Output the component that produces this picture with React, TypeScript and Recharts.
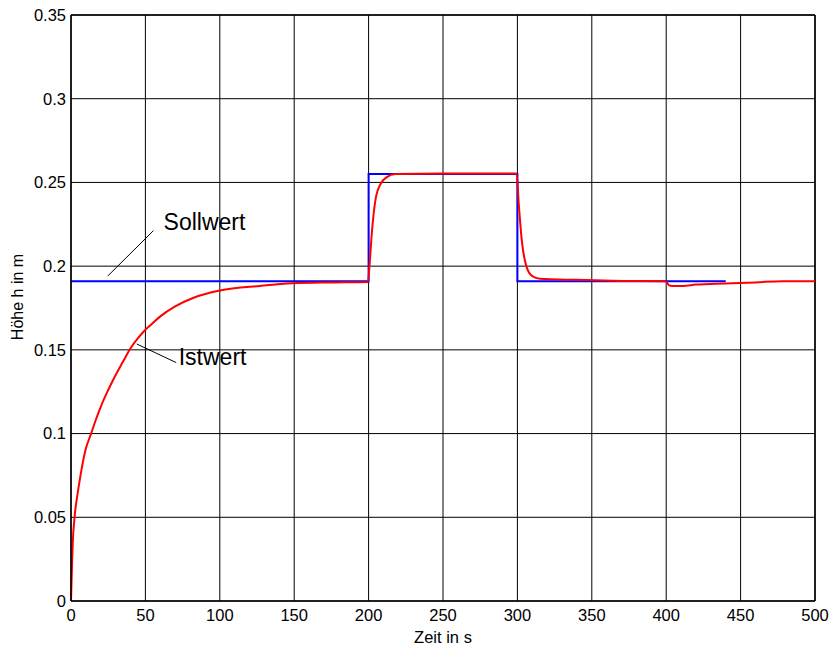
import { LineChart, Line, XAxis, YAxis, CartesianGrid, ReferenceLine, ReferenceDot, Label } from "recharts";

const xTicks = [0, 50, 100, 150, 200, 250, 300, 350, 400, 450, 500];
const yTicks = [0, 0.05, 0.1, 0.15, 0.2, 0.25, 0.3, 0.35];

// Sollwert (setpoint)
const sollT = [0, 200, 200, 300, 300, 440];
const sollH = [0.191, 0.191, 0.255, 0.255, 0.191, 0.191];

// Istwert (measured height)
const istT = [
  0, 0.8, 1.2, 2.4, 4.6, 6.2, 9.7, 13.5, 17, 20, 25, 30, 35, 40, 45, 50, 55, 60, 70, 82, 100, 127, 149, 175, 199.5,
  201, 202, 203, 205, 208, 212, 218, 250, 299.5,
  301, 303, 306, 310, 315, 340, 370, 399.5,
  402, 404, 411, 420, 440, 460, 478, 500,
];
const istH = [
  0, 0.025, 0.035, 0.05, 0.065, 0.074, 0.09, 0.1, 0.109, 0.116, 0.126, 0.135, 0.143, 0.151, 0.157, 0.162, 0.166, 0.17, 0.176, 0.181, 0.1854, 0.1882, 0.1898, 0.1903, 0.1906,
  0.205, 0.218, 0.228, 0.2415, 0.249, 0.253, 0.255, 0.2553, 0.2553,
  0.236, 0.215, 0.2, 0.194, 0.1925, 0.1918, 0.1912, 0.191,
  0.1885, 0.1882, 0.1882, 0.189, 0.1897, 0.1903, 0.191, 0.191,
];

const sollData = sollT.map((t, i) => ({ t, h: sollH[i] }));
const istData = istT.map((t, i) => ({ t, h: istH[i] }));

const font = "'Liberation Sans', Arial, sans-serif";

function AnnotText({ cx, cy, text }: { cx?: number; cy?: number; text: string }) {
  return (
    <text x={cx} y={cy} fontFamily={font} fontSize={23} fill="#000">
      {text}
    </text>
  );
}

export default function App() {
  return (
    <div style={{ position: "absolute", left: 0, top: 0, width: 832, height: 646, background: "#fff" }}>
      <LineChart width={832} height={646} margin={{ top: 15, right: 17, left: 0, bottom: 0 }}>
        <CartesianGrid stroke="#000" strokeWidth={1} horizontalValues={yTicks} verticalValues={xTicks} />
        <XAxis
          type="number"
          dataKey="t"
          domain={[0, 500]}
          ticks={xTicks}
          allowDuplicatedCategory={false}
          height={45}
          tickLine={false}
          axisLine={{ stroke: "#000", strokeWidth: 1.5 }}
          tick={{ fill: "#000", fontSize: 16.5, fontFamily: font }}
        >
          <Label value="Zeit in s" position="insideBottom" offset={3} fill="#000" fontSize={16.5} fontFamily={font} />
        </XAxis>
        <YAxis
          type="number"
          domain={[0, 0.35]}
          ticks={yTicks}
          width={71}
          tickLine={false}
          tickSize={3}
          tickMargin={2}
          axisLine={{ stroke: "#000", strokeWidth: 1.5 }}
          tickFormatter={(v) => String(v)}
          tick={{ fill: "#000", fontSize: 16.5, fontFamily: font }}
        >
          <Label
            content={() => (
              <text
                x={23}
                y={297}
                transform="rotate(-90 23 297)"
                textAnchor="middle"
                fontFamily={font}
                fontSize={16}
                fill="#000"
              >
                Höhe h in m
              </text>
            )}
          />
        </YAxis>
        <ReferenceLine x={500} stroke="#000" strokeWidth={1.5} />
        <ReferenceLine y={0.35} stroke="#000" strokeWidth={1.5} />
        <Line
          data={sollData}
          dataKey="h"
          type="linear"
          stroke="#0000ff"
          strokeWidth={2}
          dot={false}
          isAnimationActive={false}
        />
        <Line
          data={istData}
          dataKey="h"
          type="monotone"
          stroke="#ff0000"
          strokeWidth={2}
          dot={false}
          isAnimationActive={false}
        />
        <ReferenceLine
          segment={[
            { x: 24.7, y: 0.1941 },
            { x: 55.4, y: 0.2212 },
          ]}
          stroke="#000"
          strokeWidth={1}
        />
        <ReferenceLine
          segment={[
            { x: 44.2, y: 0.1535 },
            { x: 70.7, y: 0.1424 },
          ]}
          stroke="#000"
          strokeWidth={1}
        />
        <ReferenceDot x={62.2} y={0.2216} r={0} shape={(p: any) => <AnnotText cx={p.cx} cy={p.cy} text="Sollwert" />} />
        <ReferenceDot x={72.4} y={0.141} r={0} shape={(p: any) => <AnnotText cx={p.cx} cy={p.cy} text="Istwert" />} />
      </LineChart>
    </div>
  );
}
